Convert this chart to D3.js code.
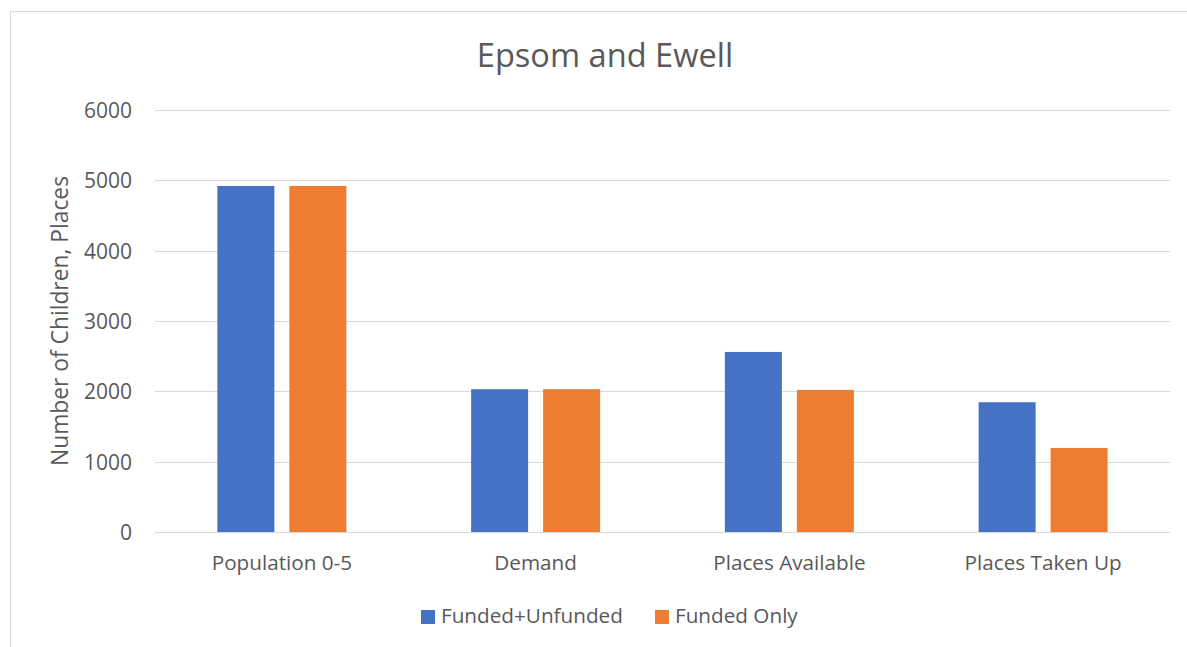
<!DOCTYPE html>
<html><head><meta charset="utf-8">
<script src="https://cdn.jsdelivr.net/npm/d3@7"></script>
<style>body{margin:0;background:#fff;} svg{display:block;font-family:"Open Sans",sans-serif;}</style>
</head><body>
<svg id="c" width="1187" height="647"></svg>
<script>
const categories = ["Population 0-5", "Demand", "Places Available", "Places Taken Up"];
const seriesNames = ["Funded+Unfunded", "Funded Only"];
const fundedUnfunded = [4920, 2030, 2560, 1845];
const fundedOnly = [4920, 2030, 2020, 1195];
const yTicks = [0, 1000, 2000, 3000, 4000, 5000, 6000];
const colors = ["#4472C4", "#ED7D31"];
const title = "Epsom and Ewell";
const yTitle = "Number of Children, Places";

const svg = d3.select("#c");
const textColor = "#595959";
const L = 155, R = 1170, T = 110, B = 532;

svg.append("rect").attr("x", 10.5).attr("y", 11.5).attr("width", 1190).attr("height", 700)
  .attr("fill", "#fff").attr("stroke", "#d9d9d9").attr("stroke-width", 1);

const x = d3.scaleBand().domain(categories).range([L, R]).paddingInner(0).paddingOuter(0);
const y = d3.scaleLinear().domain([0, 6000]).range([B, T]);

// gridlines
svg.append("g").selectAll("line").data(yTicks).join("line")
  .attr("x1", L).attr("x2", R).attr("y1", d => Math.round(y(d)) + 0.5).attr("y2", d => Math.round(y(d)) + 0.5)
  .attr("stroke", "#d9d9d9").attr("stroke-width", 1);

// y axis labels
const yAxis = d3.axisLeft(y).tickValues(yTicks).tickFormat(d3.format("d")).tickSize(0).tickPadding(0);
const ya = svg.append("g").attr("transform", `translate(132,0)`).call(yAxis);
ya.select(".domain").remove();
ya.selectAll("text").attr("fill", textColor).attr("dy", "0.36em").style("font-size", "21px").style("font-family", "Open Sans");

// bars
const barW = 57, gap = 15;
const groupW = barW * 2 + gap;
const data = [fundedUnfunded, fundedOnly];
data.forEach((vals, si) => {
  svg.append("g").selectAll("rect").data(vals).join("rect")
    .attr("x", (d, i) => x(categories[i]) + (x.bandwidth() - groupW) / 2 + si * (barW + gap))
    .attr("y", d => y(d))
    .attr("width", barW)
    .attr("height", d => B - y(d))
    .attr("fill", colors[si]);
});

// x axis labels
const xAxis = d3.axisBottom(x).tickSize(0).tickPadding(0);
const xa = svg.append("g").attr("transform", `translate(0,570)`).call(xAxis);
xa.select(".domain").remove();
xa.selectAll("text").attr("fill", textColor).attr("dy", null).attr("y", 0)
  .style("font-size", "20.7px").style("font-family", "Open Sans");

// title
svg.append("text").attr("x", 605).attr("y", 67).attr("text-anchor", "middle")
  .attr("fill", textColor).style("font-size", "32.6px").text(title);

// y title
svg.append("text").attr("transform", "translate(68,321) rotate(-90)").attr("text-anchor", "middle")
  .attr("fill", textColor).style("font-size", "22.8px").text(yTitle);

// legend
const legendItems = [{name: seriesNames[0], x: 421}, {name: seriesNames[1], x: 655}];
const lg = svg.append("g").selectAll("g").data(legendItems).join("g");
lg.append("rect").attr("x", d => d.x).attr("y", 610).attr("width", 14).attr("height", 14)
  .attr("fill", (d, i) => colors[i]);
lg.append("text").attr("x", d => d.x + 20).attr("y", 623).attr("fill", textColor)
  .style("font-size", "20.7px").text(d => d.name);
</script>
</body></html>
